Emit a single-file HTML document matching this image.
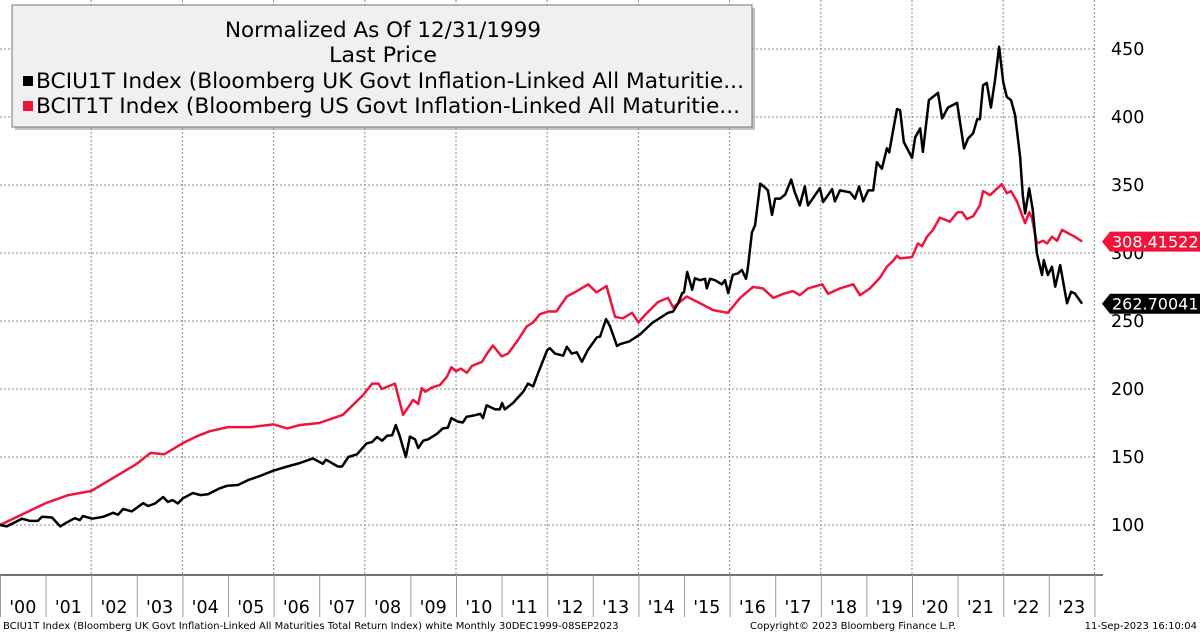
<!DOCTYPE html>
<html><head><meta charset="utf-8"><style>
html,body{margin:0;padding:0;background:#fff;}
svg{display:block;font-family:"DejaVu Sans","Liberation Sans",sans-serif;}
</style></head><body>
<svg id="chart" width="1200" height="633" viewBox="0 0 1200 633" xmlns="http://www.w3.org/2000/svg">
<g id="grid"></g>
<g id="xaxis"></g>
<g id="yaxis"></g>
<g id="series"></g>
<g>
  <rect x="15" y="8" width="740" height="122" fill="#888" opacity="0.5"/>
  <rect x="12" y="5" width="740" height="122" fill="#f0f0f0" stroke="#777" stroke-width="1"/>
  <text x="225" y="37" font-size="21" textLength="316" lengthAdjust="spacingAndGlyphs" fill="#000">Normalized As Of 12/31/1999</text>
  <text x="329" y="62" font-size="21" textLength="108" lengthAdjust="spacingAndGlyphs" fill="#000">Last Price</text>
  <rect x="23" y="76" width="10" height="10" fill="#000"/>
  <text x="36" y="88" font-size="21" textLength="708" lengthAdjust="spacingAndGlyphs" fill="#000">BCIU1T Index (Bloomberg UK Govt Inflation-Linked All Maturitie...</text>
  <rect x="23" y="101" width="10" height="10" fill="#f0143c"/>
  <text x="36" y="113" font-size="21" textLength="704" lengthAdjust="spacingAndGlyphs" fill="#000">BCIT1T Index (Bloomberg US Govt Inflation-Linked All Maturitie...</text>
</g>
<g id="tags"></g>
<text x="3" y="629" font-size="10" fill="#000">BCIU1T Index (Bloomberg UK Govt Inflation-Linked All Maturities Total Return Index) white  Monthly 30DEC1999-08SEP2023</text>
<text x="750" y="629" font-size="10" fill="#000">Copyright© 2023 Bloomberg Finance L.P.</text>
<text x="1197" y="629" font-size="10" text-anchor="end" fill="#000">11-Sep-2023 16:10:04</text>
</svg>
<script>
const yTicks = [100,150,200,250,300,350,400,450];
const yearLabels = ["'00","'01","'02","'03","'04","'05","'06","'07","'08","'09","'10","'11","'12","'13","'14","'15","'16","'17","'18","'19","'20","'21","'22","'23"];
const usDates = [0,0.5,1,1.5,2,2.5,3,3.3,3.6,4,4.3,4.6,5,5.5,6,6.3,6.58,7.0,7.52,7.96,8.16,8.3,8.37,8.66,8.84,9.06,9.17,9.25,9.33,9.47,9.65,9.8,9.9,10.0,10.1,10.24,10.35,10.57,10.68,10.81,11.0,11.14,11.36,11.55,11.69,11.84,12.02,12.2,12.43,12.6,12.9,13.08,13.3,13.49,13.66,13.86,14.0,14.19,14.43,14.65,14.76,15.06,15.35,15.64,15.96,16.23,16.51,16.73,16.96,17.18,17.39,17.54,17.72,18.03,18.16,18.42,18.71,18.86,19.08,19.3,19.45,19.58,19.67,19.74,20.0,20.13,20.22,20.33,20.46,20.61,20.83,21.0,21.1,21.2,21.34,21.49,21.56,21.71,21.97,22.08,22.17,22.3,22.48,22.57,22.63,22.74,22.87,22.96,23.07,23.18,23.29,23.4,23.57,23.73];
const usValues = [100,108,116,122,125,135,145,153,152,160,165,169,172,172,174,171,173.5,175,181,195.5,204,204,200,204,181,192,189,200.6,198,201,203,209,216,213,215,212,217,220,226,232,224,226,236,246,249,255,257,257,268,271,277,271,275.7,253,252,256,249,256,264,267,260,268,263,258,256,267,275,274,267,270,272,269,274,277,270,274,277,269,274,282,290,294,298,296,297,307,305,312,317,326,323,330,330,325,327,335,345.5,342.5,350.6,344,345.5,338,322,330,326,307,309,307,312,309,317,315,312,308.4];
const ukDates = [0,0.15,0.48,0.66,0.83,0.92,1.14,1.32,1.47,1.64,1.75,1.82,2.02,2.26,2.48,2.59,2.7,2.89,3.14,3.25,3.4,3.58,3.68,3.79,3.9,4.01,4.23,4.39,4.56,4.82,4.98,5.22,5.44,5.7,6.0,6.3,6.58,6.86,7.08,7.15,7.41,7.5,7.64,7.83,8.04,8.16,8.27,8.38,8.49,8.6,8.68,8.77,8.9,8.99,9.1,9.17,9.28,9.39,9.58,9.71,9.82,9.9,10.04,10.15,10.23,10.42,10.53,10.59,10.67,10.86,10.96,11.01,11.07,11.25,11.47,11.58,11.69,11.8,12.0,12.06,12.17,12.35,12.43,12.54,12.65,12.76,12.89,13.09,13.16,13.29,13.38,13.53,13.6,13.8,14.03,14.3,14.65,14.76,14.87,14.96,15.0,15.07,15.18,15.24,15.35,15.46,15.5,15.57,15.68,15.83,15.9,15.97,16.07,16.18,16.27,16.36,16.4,16.49,16.56,16.67,16.78,16.84,16.93,17.0,17.11,17.22,17.35,17.43,17.54,17.65,17.72,17.98,18.05,18.25,18.31,18.42,18.64,18.75,18.84,18.93,19.04,19.15,19.23,19.34,19.45,19.5,19.58,19.67,19.74,19.82,20.0,20.07,20.18,20.24,20.37,20.57,20.66,20.79,20.99,21.14,21.23,21.34,21.43,21.49,21.56,21.64,21.73,21.82,21.91,22.0,22.08,22.17,22.26,22.37,22.43,22.48,22.57,22.65,22.74,22.85,22.89,22.98,23.07,23.14,23.25,23.4,23.49,23.57,23.73];
const ukValues = [100,99,104.6,103,103,106,105.5,99,102,105,103.6,106.6,104.6,106,109,107.6,111.8,110,116,114,115.8,120.6,117,118.3,115.8,119.6,123.5,122,122.6,127,128.8,129.4,133,136,140,143,145.6,149,145,148,143,143,150,152,160,161,164.7,162,165.6,166,173.5,165,150,165,163,156.6,162,163,167,171,171.5,178.6,176,175.4,179.5,180.7,181.8,178.6,188,185,185,189.7,185,189.7,197.8,204,202,211.7,228.6,230,226,224.5,231,226,227,220,228.6,238,238.5,251.4,246,231.6,233,235,240,248.5,256,257,263,270.5,271,286,273,281.5,280,281,274,281,280,277,280,270.5,284,285,287.5,281,288.6,315,320.6,351,348,346,328,340,340,343,354,344.6,335,349,335,347.7,337.5,347,338,346,344.6,340,349,338,346,346,366.8,362,377,374,389,405.8,405,381.6,370,385,391.6,374.4,412.4,417.8,399,407,410.4,376.9,384.2,388,398.3,398.3,423.4,425,407,427,451.6,425.8,414.8,412.4,401.4,370.7,342.6,329.1,347.5,331.5,299.7,283.8,294.8,283.8,289.9,275.2,291.1,263,271.5,270.3,262.7];

const NS = "http://www.w3.org/2000/svg";
const PL = 0, PR = 1095, AXY = 575;
const xScale = t => PL + t * 45.6;
const yScale = v => 525 - (v - 100) * 68 / 50;
function mk(tag, attrs, parent, text) {
  const e = document.createElementNS(NS, tag);
  for (const k in attrs) e.setAttribute(k, attrs[k]);
  if (text !== undefined) e.textContent = text;
  parent.appendChild(e);
  return e;
}
const grid = document.getElementById('grid');
const xaxis = document.getElementById('xaxis');
const yaxis = document.getElementById('yaxis');
const series = document.getElementById('series');
const tags = document.getElementById('tags');

yTicks.forEach(v => {
  const g = mk('line', {x1: PL, x2: PR, y1: yScale(v), y2: yScale(v), stroke: '#888', 'stroke-width': 1, 'stroke-dasharray': '2,2'}, grid);
  
  
  const t = mk('text', {x: 1111, y: yScale(v) + 6, 'font-size': 17.5, fill: '#000'}, yaxis, String(v));
  
  
});
for (let yr = 2; yr <= 24; yr += 2) {
  const g = mk('line', {x1: xScale(yr), x2: xScale(yr), y1: 0, y2: AXY, stroke: '#888', 'stroke-width': 1, 'stroke-dasharray': '2,2'}, grid);
  
  
}
const ax = mk('line', {x1: 0, x2: 1103, y1: AXY, y2: AXY, stroke: '#444', 'stroke-width': 1.5}, xaxis);


for (let i = 0; i <= yearLabels.length; i++) {
  const s = mk('line', {x1: xScale(i) + 0.5, x2: xScale(i) + 0.5, y1: AXY, y2: 617, stroke: '#999', 'stroke-width': 1}, xaxis);
  
  
}
yearLabels.forEach((lab, i) => {
  const t = mk('text', {x: xScale(i + 0.5), y: 613, 'font-size': 17.5, 'text-anchor': 'middle', fill: '#000'}, xaxis, lab);
  
  
});

function linePath(dates, values) {
  return dates.map((d, i) => (i ? 'L' : 'M') + xScale(d).toFixed(1) + ',' + yScale(values[i]).toFixed(1)).join('');
}
const us = mk('path', {d: linePath(usDates, usValues), fill: 'none', stroke: '#f0143c', 'stroke-width': 2.5, 'stroke-linejoin': 'round'}, series);


const uk = mk('path', {d: linePath(ukDates, ukValues), fill: 'none', stroke: '#000', 'stroke-width': 2.5, 'stroke-linejoin': 'round'}, series);



function tag(v, color, label, name) {
  const y = yScale(v);
  const p = mk('path', {d: `M1102,${y} L1110,${y-10} L1200,${y-10} L1200,${y+10} L1110,${y+10} Z`, fill: color}, tags);
  
  
  const t = mk('text', {x: 1112, y: y + 6, 'font-size': 16, fill: '#fff'}, tags, label);
  
  
}
tag(usValues[usValues.length - 1], '#f0143c', usValues[usValues.length - 1] === 308.4 ? '308.41522' : usValues[usValues.length - 1].toFixed(5), 'us-last-value-tag');
tag(ukValues[ukValues.length - 1], '#000', ukValues[ukValues.length - 1] === 262.7 ? '262.70041' : ukValues[ukValues.length - 1].toFixed(5), 'uk-last-value-tag');
</script>
</body></html>
